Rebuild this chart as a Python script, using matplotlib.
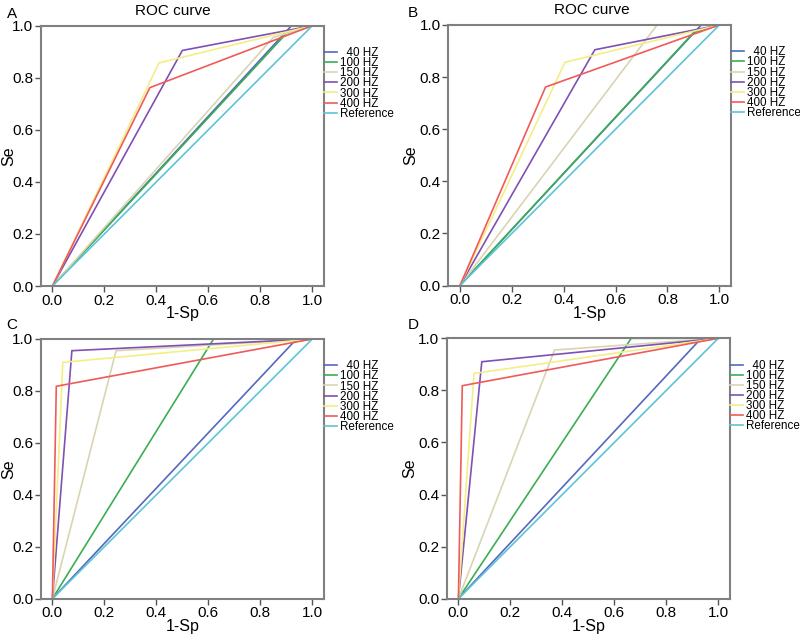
import matplotlib
matplotlib.use("Agg")
import matplotlib.pyplot as plt

plt.rcParams['font.family'] = ['Liberation Sans', 'DejaVu Sans']

labels = ['  40 HZ', '100 HZ', '150 HZ', '200 HZ', '300 HZ', '400 HZ', 'Reference']
colors = ['#5468c0', '#3aae52', '#d9d5b2', '#8050b4', '#f4ee84', '#f05a5a', '#5cc4d6']

# Single-threshold ROC vertices (1-Sp, Se) per frequency, per panel
fpr_A = [0.92, 0.90, 0.85, 0.50, 0.41, 0.375]
se_A = [1.00, 0.97, 0.955, 0.905, 0.857, 0.762]
fpr_B = [0.93, 0.90, 0.76, 0.52, 0.405, 0.33]
se_B = [1.00, 0.97, 1.00, 0.905, 0.857, 0.762]
fpr_C = [0.93, 0.62, 0.245, 0.075, 0.04, 0.015]
se_C = [0.99, 1.00, 0.955, 0.955, 0.91, 0.818]
fpr_D = [0.925, 0.665, 0.37, 0.09, 0.06, 0.015]
se_D = [0.99, 1.00, 0.955, 0.91, 0.865, 0.818]

xticks = [0.0, 0.2, 0.4, 0.6, 0.8, 1.0]
yticks = [0.0, 0.2, 0.4, 0.6, 0.8, 1.0]

W, H = 800, 636
fig = plt.figure(figsize=(8, 6.36), dpi=100)

def rect(l, r, t, b):
    return [l / W, 1 - b / H, (r - l) / W, (b - t) / H]

# letter, rect, data, has title, ylabel x, letter pos, title x
panels = [
    ('A', rect(40.7, 324, 25.7, 286), fpr_A, se_A, True, -0.085, (-0.101, 1.045), 0.467),
    ('B', rect(448.3, 731, 25.0, 285.5), fpr_B, se_B, True, -0.108, (-0.126, 1.045), 0.507),
    ('C', rect(40.7, 324, 339, 598.7), fpr_C, se_C, False, -0.085, (-0.101, 1.054), 0.5),
    ('D', rect(446.7, 730, 338.3, 598.7), fpr_D, se_D, False, -0.105, (-0.118, 1.05), 0.5),
]

for letter, r, fpr, se, top, ylx, lpos, tx in panels:
    ax = fig.add_axes(r)
    for i in range(len(fpr)):
        ax.plot([0, fpr[i], 1], [0, se[i], 1], color=colors[i], lw=1.2,
                label=labels[i], solid_joinstyle='miter')
    ax.plot([0, 1], [0, 1], color=colors[6], lw=1.2, label=labels[6])
    ax.set_xlim(-0.045, 1.045)
    ax.set_ylim(0, 1)
    ax.set_xticks(xticks)
    ax.set_yticks(yticks)
    ax.set_xticklabels([f'{v:.1f}' for v in xticks])
    ax.set_yticklabels([f'{v:.1f}' for v in yticks])
    ax.tick_params(direction='out', length=4, width=1, colors='#555555',
                   labelcolor='black', labelsize=11, pad=1.5)
    for s in ax.spines.values():
        s.set_color('#808080')
        s.set_linewidth(1.5)
    ax.set_xlabel('1-Sp', fontsize=11.5, labelpad=-1)
    ax.set_ylabel('Se', fontsize=11.5)
    ax.yaxis.set_label_coords(ylx, 0.5)
    if top:
        ax.set_title('ROC curve', fontsize=11, pad=8, x=tx)
    ax.text(lpos[0], lpos[1], letter, transform=ax.transAxes, fontsize=11,
            ha='center', va='center')
    ax.legend(loc='upper left', bbox_to_anchor=(1.0, 0.918), frameon=False,
              fontsize=8.4, handlelength=1.1, handletextpad=0.25,
              labelspacing=-0.16, borderpad=0, borderaxespad=0)

fig.savefig('out.png', dpi=100)
